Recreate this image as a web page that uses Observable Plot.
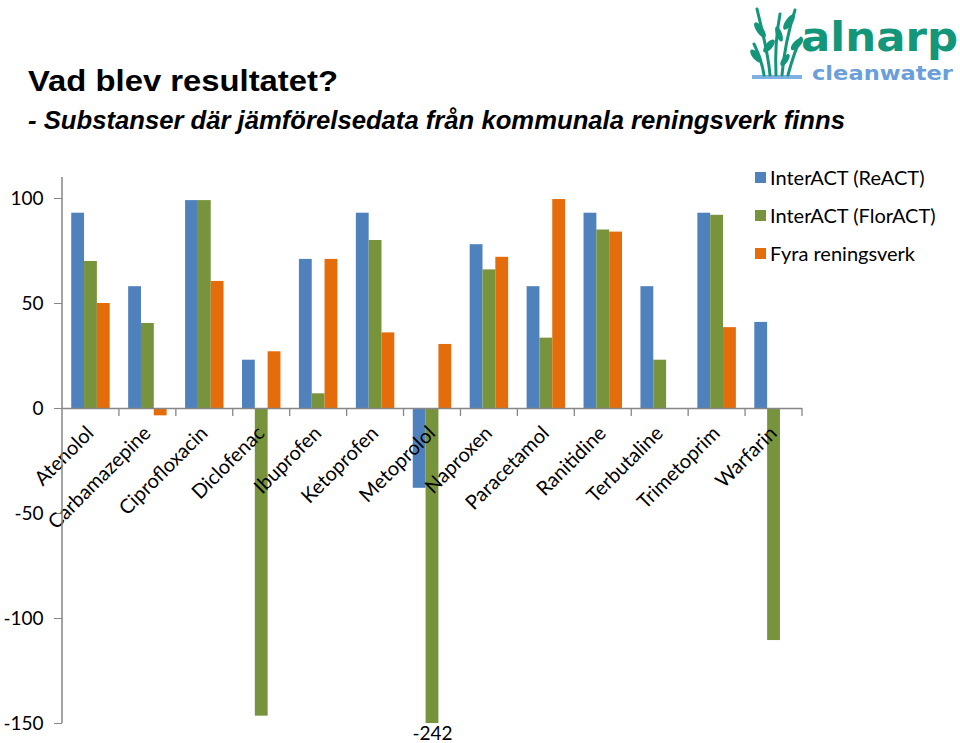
<!DOCTYPE html>
<html>
<head>
<meta charset="utf-8">
<script src="https://cdn.jsdelivr.net/npm/d3@7"></script>
<script src="https://cdn.jsdelivr.net/npm/@observablehq/plot@0.6"></script>
<style>
  html, body { margin: 0; padding: 0; background: #fff; }
  #page { position: relative; width: 960px; height: 743px; overflow: hidden; background: #fff; }
  #head { position: absolute; left: 0; top: 0; }
  #chart { position: absolute; left: 0; top: 170px; }
  #legend { position: absolute; left: 755px; top: 158px; font-family: Lato, sans-serif; font-size: 20px; color: #000; }
  .item { display: flex; align-items: center; height: 38px; white-space: nowrap; }
  .sw { width: 11px; height: 11px; margin-right: 4px; flex: none; }
</style>
</head>
<body>
<div id="page">
  <svg id="head" width="960" height="150">
    <text x="28" y="91" font-family="Liberation Sans, Arial, sans-serif" font-weight="bold" font-size="30" fill="#000" textLength="310" lengthAdjust="spacingAndGlyphs">Vad blev resultatet?</text>
    <text x="28" y="129" font-family="Liberation Sans, Arial, sans-serif" font-weight="bold" font-style="italic" font-size="25" fill="#000" textLength="817" lengthAdjust="spacingAndGlyphs">- Substanser där jämförelsedata från kommunala reningsverk finns</text>
    <g id="logo">
      <rect x="752" y="75" width="50" height="4" fill="#7fb0e3"/>
      <g fill="none" stroke="#14967a" stroke-width="3" stroke-linecap="round">
        <path d="M770 75 C 768 52, 762 30, 757 9"/>
        <path d="M776 75 C 775 55, 776 35, 780 14"/>
        <path d="M782 75 C 784 52, 788 32, 795 10"/>
        <path d="M788 75 C 792 60, 796 48, 801 38"/>
        <path d="M764 75 C 762 62, 758 52, 754 44"/>
      </g>
      <g fill="#14967a">
        <ellipse cx="760" cy="30" rx="3.5" ry="9" transform="rotate(-35 760 30)"/>
        <ellipse cx="789" cy="22" rx="3.5" ry="9" transform="rotate(35 789 22)"/>
        <ellipse cx="769" cy="46" rx="3.5" ry="8" transform="rotate(40 769 46)"/>
        <ellipse cx="797" cy="44" rx="3.5" ry="8" transform="rotate(45 797 44)"/>
        <ellipse cx="756" cy="56" rx="3.5" ry="8" transform="rotate(-40 756 56)"/>
        <ellipse cx="779" cy="34" rx="3" ry="8" transform="rotate(-20 779 34)"/>
        <ellipse cx="785" cy="60" rx="3" ry="7" transform="rotate(35 785 60)"/>
      </g>
      <text x="801" y="51" font-family="DejaVu Sans, sans-serif" font-weight="bold" font-size="40" fill="#14967a" textLength="157" lengthAdjust="spacingAndGlyphs">alnarp</text>
      <text x="812" y="80" font-family="DejaVu Sans, sans-serif" font-weight="bold" font-size="20" fill="#6b9fd9" textLength="141" lengthAdjust="spacingAndGlyphs">cleanwater</text>
    </g>
  </svg>
  <div id="chart"></div>
  <div id="legend"></div>
</div>
<script>
// ---- data ----
const categories = ["Atenolol", "Carbamazepine", "Ciprofloxacin", "Diclofenac", "Ibuprofen", "Ketoprofen", "Metoprolol", "Naproxen", "Paracetamol", "Ranitidine", "Terbutaline", "Trimetoprim", "Warfarin"];
const seriesNames = ["InterACT (ReACT)", "InterACT (FlorACT)", "Fyra reningsverk"];
const reactValues   = [93, 58, 99, 23, 71, 93, -38, 78, 58, 93, 58, 93, 41];
const floractValues = [70, 40.5, 99, -146.5, 7, 80, -242, 66, 33.5, 85, 23, 92, -110.5];
const fyraValues    = [50, -3.5, 60.5, 27, 71, 36, 30.5, 72, 99.5, 84, null, 38.5, null];
const yTicks = [-150, -100, -50, 0, 50, 100];
const yDomain = [-150, 110];
const colors = ["#4f81bd", "#77933c", "#e46c0a"];

const seriesValues = [reactValues, floractValues, fyraValues];
const rows = categories.flatMap((c, i) =>
  seriesNames.map((s, k) => ({c, s, v: seriesValues[k][i]}))
).filter(d => d.v != null);

const chart = Plot.plot({
  width: 960,
  height: 573,
  marginLeft: 62,
  marginRight: 158,
  marginTop: 7,
  marginBottom: 20,
  style: {fontFamily: "Lato, sans-serif", fontSize: "19px", color: "#000", background: "transparent", overflow: "visible"},
  fx: {domain: categories, padding: 0, round: false, axis: null, label: null},
  x: {domain: seriesNames, paddingInner: 0, paddingOuter: 0.72, round: false, axis: null, label: null},
  y: {domain: yDomain, label: null},
  color: {domain: seriesNames, range: colors},
  marks: [
    Plot.axisY({ticks: yTicks, tickFormat: d => d.toString(), tickSize: 8, tickPadding: 11, stroke: "#868686", fill: "#000", fontSize: 19, label: null}),
    Plot.barY(rows, {fx: "c", x: "s", y: "v", fill: "s", clip: true}),
    Plot.ruleY([0], {stroke: "#868686", strokeWidth: 1.3}),
    Plot.text(categories, {fx: d => d, y: () => 0, text: d => d, rotate: -45, textAnchor: "end", lineAnchor: "bottom", dx: 4, dy: 26, fontSize: 20, fill: "#000"}),
    Plot.text(rows.filter(d => d.v < yDomain[0]), {fx: "c", x: "s", y: () => yDomain[0], text: d => String(d.v), lineAnchor: "top", dy: 3, fontSize: 19, fill: "#000"})
  ]
});

// axis line and category-boundary ticks from the plot's own scales
const fxS = chart.scale("fx");
const yS = chart.scale("y");
const svg = d3.select(chart);
const y0 = yS.apply(0);
const edges = categories.map(c => fxS.apply(c));
edges.push(fxS.apply(categories[categories.length - 1]) + fxS.bandwidth);
svg.append("g")
  .attr("stroke", "#868686").attr("stroke-width", 1.3)
  .selectAll("line").data(edges.slice(1)).join("line")
  .attr("x1", d => d).attr("x2", d => d)
  .attr("y1", y0).attr("y2", y0 + 8);
svg.append("line")
  .attr("stroke", "#868686").attr("stroke-width", 1.5)
  .attr("x1", edges[0]).attr("x2", edges[0])
  .attr("y1", yS.apply(yDomain[1])).attr("y2", yS.apply(yDomain[0]));

document.getElementById("chart").appendChild(chart);

// legend
const legend = d3.select("#legend");
seriesNames.forEach((s, k) => {
  const item = legend.append("div").attr("class", "item");
  item.append("div").attr("class", "sw").style("background", colors[k]);
  item.append("span").text(s);
});
</script>
</body>
</html>
